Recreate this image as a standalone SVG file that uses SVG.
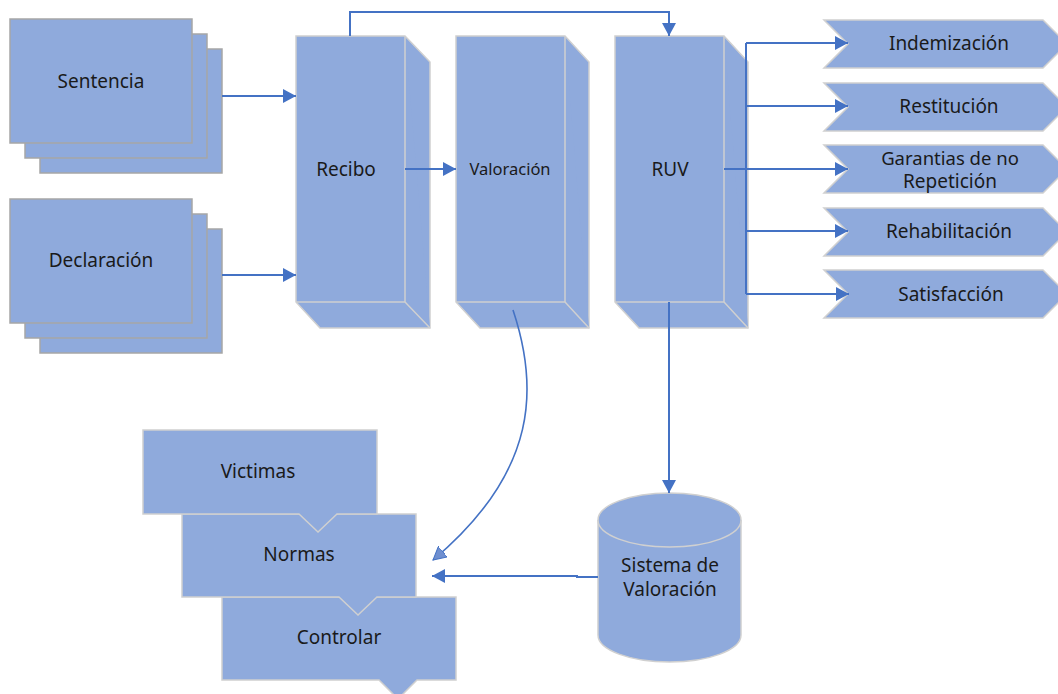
<svg xmlns="http://www.w3.org/2000/svg" width="1058" height="694" viewBox="0 0 1058 694">
<defs>
<style>
.f{fill:#8faadc;stroke:#a6a6a6;stroke-width:1.5}
.b{fill:#8faadc;stroke:#d0d0d0;stroke-width:1.5;stroke-linejoin:miter}
.t{font-family:"Noto Sans","Open Sans","DejaVu Sans",sans-serif;font-size:19px;fill:#1a1a1a;text-anchor:middle;dominant-baseline:central}
.c{fill:none;stroke:#4472c4;stroke-width:2}
</style>
<marker id="a" markerUnits="userSpaceOnUse" markerWidth="14" markerHeight="14" viewBox="0 0 14 14" refX="13" refY="7" orient="auto">
<path d="M0,0 L13,7 L0,14 Z" fill="#4472c4"/>
</marker>
<marker id="a2" markerUnits="userSpaceOnUse" markerWidth="14" markerHeight="14" viewBox="0 0 14 14" refX="13" refY="7" orient="auto">
<path d="M0,0 L13,7 L0,14 Z" fill="#6f8fd0" stroke="#4472c4" stroke-width="1"/>
</marker>
</defs>
<rect width="1058" height="694" fill="#ffffff"/>

<g id="sentencia">
<rect class="f" x="40" y="49" width="182" height="124"/>
<rect class="f" x="25" y="34" width="182" height="124"/>
<rect class="f" x="10" y="19" width="182" height="124"/>
<text class="t" x="101" y="81">Sentencia</text>
</g>

<g id="declaracion">
<rect class="f" x="40" y="229" width="182" height="124"/>
<rect class="f" x="25" y="214" width="182" height="124"/>
<rect class="f" x="10" y="199" width="182" height="124"/>
<text class="t" x="101" y="260">Declaración</text>
</g>

<g id="recibo">
<path class="b" d="M296,36 H405 L430,62 V328 H320 L296,302 Z"/>
<path class="b" d="M405,36 V302 L430,328 M296,302 H405"/>
<text class="t" x="346" y="169">Recibo</text>
</g>

<g id="valoracion">
<path class="b" d="M456,36 H565 L589,62 V328 H480 L456,302 Z"/>
<path class="b" d="M565,36 V302 L589,328 M456,302 H565"/>
<text class="t" x="510" y="168" style="font-size:16.5px">Valoración</text>
</g>

<g id="ruv">
<path class="b" d="M615,36 H724 L748,62 V328 H639 L615,302 Z"/>
<path class="b" d="M724,36 V302 L748,328 M615,302 H724"/>
<text class="t" x="670" y="169">RUV</text>
</g>

<g id="indemizacion">
<path class="b" d="M824,20 H1043 L1067,44 L1043,68 H824 L848,44 Z"/>
<text class="t" x="949" y="43">Indemización</text>
</g>
<g id="restitucion">
<path class="b" d="M824,83 H1043 L1067,107 L1043,131 H824 L848,107 Z"/>
<text class="t" x="949" y="106">Restitución</text>
</g>
<g id="garantias">
<path class="b" d="M824,145 H1043 L1067,169 L1043,193 H824 L848,169 Z"/>
<text class="t" x="950" y="157" style="font-size:18.5px">Garantias de no</text>
<text class="t" x="950" y="181">Repetición</text>
</g>
<g id="rehabilitacion">
<path class="b" d="M824,208 H1043 L1067,232 L1043,256 H824 L848,232 Z"/>
<text class="t" x="949" y="231">Rehabilitación</text>
</g>
<g id="satisfaccion">
<path class="b" d="M824,270 H1043 L1067,294 L1043,318 H824 L848,294 Z"/>
<text class="t" x="951" y="294">Satisfacción</text>
</g>

<g id="controlar">
<path class="b" d="M222,597 H456 V680 H417 L398,699 L379,680 H222 Z"/>
<text class="t" x="339" y="637">Controlar</text>
</g>
<g id="normas">
<path class="b" d="M182,514 H416 V597 H377 L358,615 L339,597 H182 Z"/>
<text class="t" x="299" y="554">Normas</text>
</g>
<g id="victimas">
<path class="b" d="M143,430 H377 V514 H337 L318,532 L299,514 H143 Z"/>
<text class="t" x="258" y="471">Victimas</text>
</g>

<g id="sistema">
<path class="b" d="M598,520 A71.5,27 0 0 1 741,520 V635 A71.5,27 0 0 1 598,635 Z"/>
<path class="b" d="M598,520 A71.5,27 0 0 0 741,520" fill="none"/>
<text class="t" x="670" y="565">Sistema de</text>
<text class="t" x="670" y="589">Valoración</text>
</g>

<g id="connectors">
<path class="c" d="M222,96 H296" marker-end="url(#a)"/>
<path class="c" d="M222,275 H296" marker-end="url(#a)"/>
<path class="c" d="M405,169 H456" marker-end="url(#a)"/>
<path class="c" d="M350,36 V12 H669 V36" marker-end="url(#a)"/>
<path class="c" d="M724,169 H746"/>
<path class="c" d="M746,43 V294"/>
<path class="c" d="M746,43 H848" marker-end="url(#a)"/>
<path class="c" d="M746,106 H848" marker-end="url(#a)"/>
<path class="c" d="M746,169 H848" marker-end="url(#a)"/>
<path class="c" d="M746,231 H848" marker-end="url(#a)"/>
<path class="c" d="M746,294 H849" marker-end="url(#a)"/>
<path class="c" d="M669,302 V493" marker-end="url(#a)"/>
<path class="c" d="M598,577 H577 V576 H432" marker-end="url(#a)"/>
<path class="c" d="M513,310 C538,385 540,470 433,560" marker-end="url(#a2)" style="stroke-width:1.6"/>
</g>
</svg>
